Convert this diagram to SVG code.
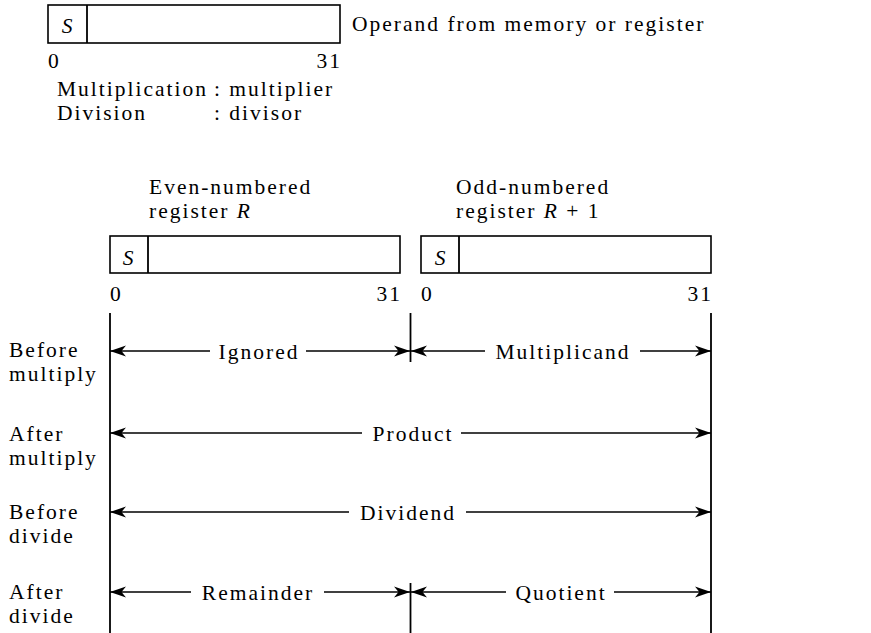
<svg xmlns="http://www.w3.org/2000/svg" width="871" height="633" viewBox="0 0 871 633">
<style>
text{font-family:"Liberation Serif","Times New Roman",serif;font-size:21.5px;letter-spacing:2px;fill:#000}
.it{font-style:italic}
.end{text-anchor:end}
.mid{text-anchor:middle}
.box{fill:none;stroke:#000;stroke-width:1.6}
.ln{stroke:#000;stroke-width:1.8;fill:none}
.ar{stroke:#000;stroke-width:1.6;fill:none;marker-end:url(#ah)}
</style>
<defs>
<marker id="ah" markerUnits="userSpaceOnUse" viewBox="0 0 16 12" refX="16" refY="6" markerWidth="16" markerHeight="12" orient="auto">
<path d="M0,0.5 L16,6 L0,11.5 L4.5,6 Z" fill="#000"/>
</marker>
</defs>
<rect width="871" height="633" fill="#fff"/>

<g id="operand">
<rect class="box" x="48" y="5" width="292" height="38"/>
<line class="ln" x1="87" y1="5" x2="87" y2="43"/>
<text class="it mid" x="68" y="33">S</text>
<text x="352" y="31">Operand from memory or register</text>
<text x="48" y="68">0</text>
<text class="end" x="342" y="68">31</text>
<text x="57" y="96">Multiplication</text>
<text x="214" y="96">: multiplier</text>
<text x="57" y="120">Division</text>
<text x="214" y="120">: divisor</text>
</g>

<g id="register-r">
<text x="149" y="194">Even-numbered</text>
<text x="149" y="218">register <tspan class="it">R</tspan></text>
<rect class="box" x="110" y="236" width="290" height="37"/>
<line class="ln" x1="148" y1="236" x2="148" y2="273"/>
<text class="it mid" x="129" y="265">S</text>
<text x="110" y="301">0</text>
<text class="end" x="402" y="301">31</text>
</g>

<g id="register-r1">
<text x="456" y="194">Odd-numbered</text>
<text x="456" y="218">register <tspan class="it">R</tspan> + 1</text>
<rect class="box" x="421" y="236" width="290" height="37"/>
<line class="ln" x1="459" y1="236" x2="459" y2="273"/>
<text class="it mid" x="441" y="265">S</text>
<text x="421" y="301">0</text>
<text class="end" x="713" y="301">31</text>
</g>

<g id="row-labels">
<text x="9" y="357">Before</text>
<text x="9" y="381">multiply</text>
<text x="9" y="441">After</text>
<text x="9" y="465">multiply</text>
<text x="9" y="519">Before</text>
<text x="9" y="543">divide</text>
<text x="9" y="599">After</text>
<text x="9" y="623">divide</text>
</g>

<g id="field-labels">
<text class="mid" x="259" y="359">Ignored</text>
<text class="mid" x="563" y="359">Multiplicand</text>
<text class="mid" x="413" y="441">Product</text>
<text class="mid" x="408" y="520">Dividend</text>
<text class="mid" x="258" y="600">Remainder</text>
<text class="mid" x="561" y="600">Quotient</text>
</g>

<g id="connectors">
<line class="ln" x1="110" y1="313" x2="110" y2="633"/>
<line class="ln" x1="711" y1="313" x2="711" y2="633"/>
<line class="ln" x1="410.5" y1="313" x2="410.5" y2="362"/>
<line class="ln" x1="410.5" y1="583" x2="410.5" y2="633"/>

<line class="ar" x1="210" y1="351" x2="110" y2="351"/>
<line class="ar" x1="306" y1="351" x2="410" y2="351"/>
<line class="ar" x1="485" y1="351" x2="411" y2="351"/>
<line class="ar" x1="640" y1="351" x2="711" y2="351"/>

<line class="ar" x1="362" y1="433" x2="110" y2="433"/>
<line class="ar" x1="461" y1="433" x2="711" y2="433"/>

<line class="ar" x1="349" y1="512" x2="110" y2="512"/>
<line class="ar" x1="466" y1="512" x2="711" y2="512"/>

<line class="ar" x1="191" y1="592" x2="110" y2="592"/>
<line class="ar" x1="324" y1="592" x2="410" y2="592"/>
<line class="ar" x1="506" y1="592" x2="411" y2="592"/>
<line class="ar" x1="614" y1="592" x2="711" y2="592"/>
</g>
</svg>
